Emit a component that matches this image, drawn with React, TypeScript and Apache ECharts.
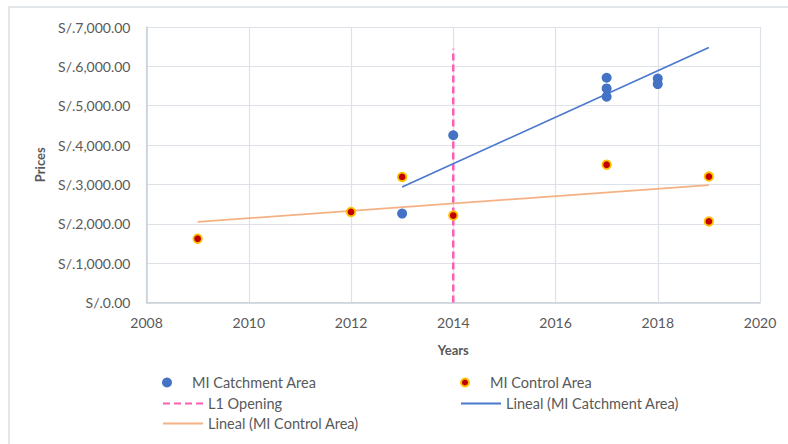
import React, { useEffect, useRef } from "react";
import * as echarts from "echarts";

// ---- data ----
const catchmentYears = [2013, 2014, 2017, 2017, 2017, 2018, 2018];
const catchmentPrices = [2260, 4250, 5710, 5440, 5230, 5690, 5550];
const controlYears = [2009, 2012, 2013, 2014, 2017, 2019, 2019];
const controlPrices = [1620, 2300, 3190, 2210, 3500, 3200, 2060];
const l1OpeningYear = 2014;
const l1OpeningRange = [0, 6450];
const catchmentTrendRange = [2013, 2019];
const controlTrendRange = [2009, 2019];
const xTicks = { min: 2008, max: 2020, step: 2 };
const yTicks = { min: 0, max: 7000, step: 1000 };

const NAMES = {
  catch: "MI Catchment Area",
  control: "MI Control Area",
  l1: "L1 Opening",
  catchTrend: "Lineal (MI Catchment Area)",
  controlTrend: "Lineal (MI Control Area)",
};

function linFit(xs: number[], ys: number[]) {
  const n = xs.length;
  const mx = xs.reduce((a, b) => a + b, 0) / n;
  const my = ys.reduce((a, b) => a + b, 0) / n;
  let sxy = 0, sxx = 0;
  for (let i = 0; i < n; i++) {
    sxy += (xs[i] - mx) * (ys[i] - my);
    sxx += (xs[i] - mx) * (xs[i] - mx);
  }
  const slope = sxy / sxx;
  const icpt = my - slope * mx;
  return (x: number) => icpt + slope * x;
}

const FONT = "Lato";
const TXT = "#595959";

export default function App() {
  const ref = useRef<HTMLDivElement>(null);
  useEffect(() => {
    if (!ref.current) return;
    const chart = echarts.init(ref.current, undefined, { renderer: "svg" });
    const fc = linFit(catchmentYears, catchmentPrices);
    const fk = linFit(controlYears, controlPrices);
    const legendBase = {
      orient: "horizontal",
      itemWidth: 40,
      itemHeight: 10,
      itemGap: 5,
      padding: 0,
      textStyle: { color: TXT, fontFamily: FONT, fontSize: 14.5 },
      selectedMode: false,
    };
    const lineLegend = { ...legendBase, itemStyle: { opacity: 0 } };
    chart.setOption({
      animation: false,
      backgroundColor: "#ffffff",
      graphic: [
        {
          type: "rect",
          shape: { x: 9, y: 7, width: 820, height: 480 },
          style: { fill: "none", stroke: "#e3e7ec", lineWidth: 2 },
          silent: true,
        },
      ],
      grid: { left: 146.5, right: 28, top: 27, bottom: 141.5, containLabel: false },
      legend: [
        { ...legendBase, data: [NAMES.catch], left: 162, top: 375 },
        { ...legendBase, itemHeight: 8, data: [NAMES.control], left: 460, top: 375 },
        { ...lineLegend, data: [NAMES.l1], left: 162, top: 396 },
        { ...lineLegend, data: [NAMES.catchTrend], left: 460, top: 396 },
        { ...lineLegend, data: [NAMES.controlTrend], left: 162, top: 416 },
      ],
      xAxis: {
        type: "value",
        min: xTicks.min,
        max: xTicks.max,
        interval: xTicks.step,
        name: "Years",
        nameLocation: "middle",
        nameGap: 41,
        nameTextStyle: { color: TXT, fontFamily: FONT, fontSize: 13, fontWeight: "bold" },
        axisLabel: { color: TXT, fontFamily: FONT, fontSize: 14, margin: 13, formatter: (v: number) => String(v) },
        axisLine: { show: true, lineStyle: { color: "#c8cfd7", width: 1.5 } },
        axisTick: { show: false },
        splitLine: { show: true, lineStyle: { color: "#dde2e8", width: 1.2 } },
      },
      yAxis: {
        type: "value",
        min: yTicks.min,
        max: yTicks.max,
        interval: yTicks.step,
        name: "Prices",
        nameLocation: "middle",
        nameGap: 100,
        nameTextStyle: { color: TXT, fontFamily: FONT, fontSize: 13, fontWeight: "bold" },
        axisLabel: {
          color: TXT,
          fontFamily: FONT,
          fontSize: 14,
          margin: 16,
          formatter: (v: number) =>
            "S/." + v.toLocaleString("en-US", { minimumFractionDigits: 2, maximumFractionDigits: 2 }),
        },
        axisLine: { show: true, lineStyle: { color: "#c8cfd7", width: 1.5 } },
        axisTick: { show: false },
        splitLine: { show: true, lineStyle: { color: "#dde2e8", width: 1.2 } },
      },
      series: [
        {
          name: NAMES.l1,
          type: "line",
          data: l1OpeningRange.map((y) => [l1OpeningYear, y]),
          symbol: "none",
          lineStyle: { color: "#ff5fb0", width: 2.5, type: [7, 4] },
          itemStyle: { color: "#ff5fb0" },
          z: 1,
        },
        {
          name: NAMES.catchTrend,
          type: "line",
          data: catchmentTrendRange.map((x) => [x, fc(x)]),
          symbol: "none",
          lineStyle: { color: "#4a78cc", width: 1.7 },
          itemStyle: { color: "#4a78cc" },
          z: 2,
        },
        {
          name: NAMES.controlTrend,
          type: "line",
          data: controlTrendRange.map((x) => [x, fk(x)]),
          symbol: "none",
          lineStyle: { color: "#f4b183", width: 1.7 },
          itemStyle: { color: "#f4b183" },
          z: 2,
        },
        {
          name: NAMES.catch,
          type: "scatter",
          data: catchmentYears.map((x, i) => [x, catchmentPrices[i]]),
          symbol: "circle",
          symbolSize: 10,
          itemStyle: { color: "#4472c4", opacity: 1 },
          z: 3,
        },
        {
          name: NAMES.control,
          type: "scatter",
          data: controlYears.map((x, i) => [x, controlPrices[i]]),
          symbol: "circle",
          symbolSize: 8.5,
          itemStyle: { color: "#c00000", borderColor: "#ffc000", borderWidth: 1.8, opacity: 1 },
          z: 4,
        },
      ],
    });
    return () => chart.dispose();
  }, []);
  return (
    <div
      ref={ref}
      style={{ position: "fixed", left: 0, top: 0, width: 788, height: 444, background: "#fff" }}
    />
  );
}
